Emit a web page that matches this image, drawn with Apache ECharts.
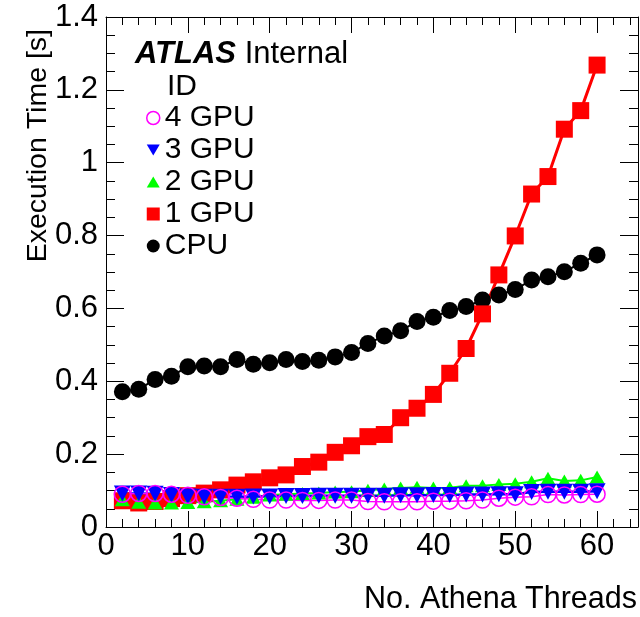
<!DOCTYPE html>
<html>
<head>
<meta charset="utf-8">
<script src="https://cdn.jsdelivr.net/npm/echarts@6/dist/echarts.min.js"></script>
<style>
  html, body { margin: 0; padding: 0; background: #fff; }
  #chart { width: 640px; height: 617px; }
</style>
</head>
<body>
<div id="chart"></div>
<script>
// number of Athena threads (x)
const threads = [2, 4, 6, 8, 10, 12, 14, 16, 18, 20, 22, 24, 26, 28, 30,
  32, 34, 36, 38, 40, 42, 44, 46, 48, 50, 52, 54, 56, 58, 60]

// execution time [s] per configuration
const cpu = [0.371, 0.378, 0.405, 0.414, 0.440, 0.442, 0.440, 0.460, 0.447, 0.451,
  0.460, 0.454, 0.458, 0.467, 0.479, 0.504, 0.524, 0.539, 0.564, 0.576,
  0.594, 0.605, 0.623, 0.637, 0.652, 0.678, 0.687, 0.701, 0.724, 0.747]
const gpu1 = [0.072, 0.066, 0.070, 0.078, 0.086, 0.093, 0.102, 0.115, 0.124, 0.135,
  0.143, 0.166, 0.178, 0.205, 0.223, 0.248, 0.254, 0.300, 0.326, 0.364,
  0.422, 0.490, 0.585, 0.692, 0.799, 0.914, 0.962, 1.092, 1.143, 1.268]
const gpu2 = [0.075, 0.068, 0.066, 0.066, 0.067, 0.069, 0.072, 0.076, 0.082, 0.088,
  0.090, 0.092, 0.093, 0.096, 0.097, 0.101, 0.104, 0.107, 0.109, 0.107,
  0.108, 0.113, 0.113, 0.117, 0.119, 0.124, 0.134, 0.126, 0.128, 0.137]
const gpu3 = [0.092, 0.092, 0.091, 0.088, 0.084, 0.083, 0.083, 0.083, 0.084, 0.084,
  0.085, 0.085, 0.086, 0.086, 0.086, 0.086, 0.086, 0.087, 0.087, 0.088,
  0.088, 0.089, 0.089, 0.090, 0.090, 0.096, 0.097, 0.097, 0.097, 0.098]
const gpu4 = [0.090, 0.092, 0.092, 0.090, 0.087, 0.083, 0.081, 0.079, 0.076, 0.074,
  0.074, 0.073, 0.073, 0.074, 0.074, 0.070, 0.069, 0.069, 0.069, 0.071,
  0.071, 0.072, 0.074, 0.079, 0.082, 0.083, 0.089, 0.088, 0.089, 0.090]

const legendNames = ['4 GPU', '3 GPU', '2 GPU', '1 GPU', 'CPU']

const FONT = 'Liberation Sans'
const pts = ys => threads.map((t, i) => [t, ys[i]])

const chart = echarts.init(document.getElementById('chart'))

// frame axes (ROOT style: ticks inside, mirrored on top/right)
const xBase = {
  type: 'value', min: 0, max: 65, interval: 10,
  axisLine: { show: true, onZero: false, lineStyle: { color: '#000', width: 1 } },
  axisTick: { show: true, inside: true, length: 16, lineStyle: { color: '#000' } },
  minorTick: { show: true, splitNumber: 5, length: 8, lineStyle: { color: '#000' } },
  splitLine: { show: false },
}
const yBase = {
  type: 'value', min: 0, max: 1.4, interval: 0.2,
  axisLine: { show: true, onZero: false, lineStyle: { color: '#000', width: 1 } },
  axisTick: { show: true, inside: true, length: 18, lineStyle: { color: '#000' } },
  minorTick: { show: true, splitNumber: 4, length: 9, lineStyle: { color: '#000' } },
  splitLine: { show: false },
}

const option = {
  animation: false,
  textStyle: { fontFamily: FONT },
  grid: { left: 106, right: 2, top: 17, bottom: 90, outerBoundsMode: 'none' },
  xAxis: [
    { ...xBase, position: 'bottom',
      axisLabel: { fontSize: 31, color: '#000', margin: 4, showMaxLabel: false, fontFamily: FONT } },
    { ...xBase, position: 'top', axisLabel: { show: false } },
  ],
  yAxis: [
    { ...yBase, position: 'left',
      axisLabel: { fontSize: 31, color: '#000', margin: 8, fontFamily: FONT } },
    { ...yBase, position: 'right', axisLabel: { show: false } },
  ],
  legend: {
    orient: 'vertical', left: 141, top: 98,
    itemWidth: 13, itemHeight: 13, itemGap: 2, itemTextGap: 14,
    textStyle: { fontSize: 30, lineHeight: 28, color: '#000', fontFamily: FONT },
    data: [
      { name: legendNames[0], icon: 'circle',
        itemStyle: { color: 'transparent', borderColor: '#ff00ff', borderWidth: 1.5 } },
      { name: legendNames[1], icon: 'path://M0,0 L20,0 L10,17 Z' },
      { name: legendNames[2], icon: 'path://M10,0 L20,17 L0,17 Z' },
      { name: legendNames[3], icon: 'rect' },
      { name: legendNames[4], icon: 'circle' },
    ],
  },
  graphic: [
    { type: 'text', left: 135, top: 39,
      style: { text: '{a|ATLAS}{b| Internal}', rich: {
        a: { fontSize: 31, fontWeight: 'bold', fontStyle: 'italic', fontFamily: FONT, fill: '#000' },
        b: { fontSize: 31, fontFamily: FONT, fill: '#000' } } } },
    { type: 'text', left: 167, top: 72,
      style: { text: 'ID', fontSize: 30, fontFamily: FONT, fill: '#000' } },
    { type: 'text', x: 38, y: 29, rotation: Math.PI / 2,
      style: { text: 'Execution Time [s]', fontSize: 28.5, fontFamily: FONT, fill: '#000',
        align: 'right', verticalAlign: 'middle' } },
    { type: 'text', x: 637, y: 600,
      style: { text: 'No. Athena Threads', fontSize: 30.5, fontFamily: FONT, fill: '#000',
        align: 'right', verticalAlign: 'middle' } },
  ],
  series: [
    { name: 'CPU', type: 'line', data: pts(cpu), symbol: 'circle', symbolSize: 17,
      itemStyle: { color: '#000' }, lineStyle: { color: '#000', width: 2 } },
    { name: '1 GPU', type: 'line', data: pts(gpu1), symbol: 'rect', symbolSize: 17,
      itemStyle: { color: '#ff0000' }, lineStyle: { color: '#ff0000', width: 3 } },
    { name: '2 GPU', type: 'line', data: pts(gpu2), symbol: 'triangle', symbolSize: [15, 13],
      itemStyle: { color: '#00ff00' }, lineStyle: { color: '#00ff00', width: 2 } },
    { name: '3 GPU', type: 'line', data: pts(gpu3), symbol: 'triangle', symbolRotate: 180,
      symbolSize: [17, 16],
      itemStyle: { color: '#0000ff' }, lineStyle: { color: '#0000ff', width: 2.5 } },
    { name: '4 GPU', type: 'line', data: pts(gpu4), symbol: 'circle', symbolSize: 16,
      itemStyle: { color: 'transparent', borderColor: '#ff00ff', borderWidth: 1.5 },
      lineStyle: { color: '#ff00ff', width: 1.5 } },
  ],
}

chart.setOption(option)
</script>
</body>
</html>
